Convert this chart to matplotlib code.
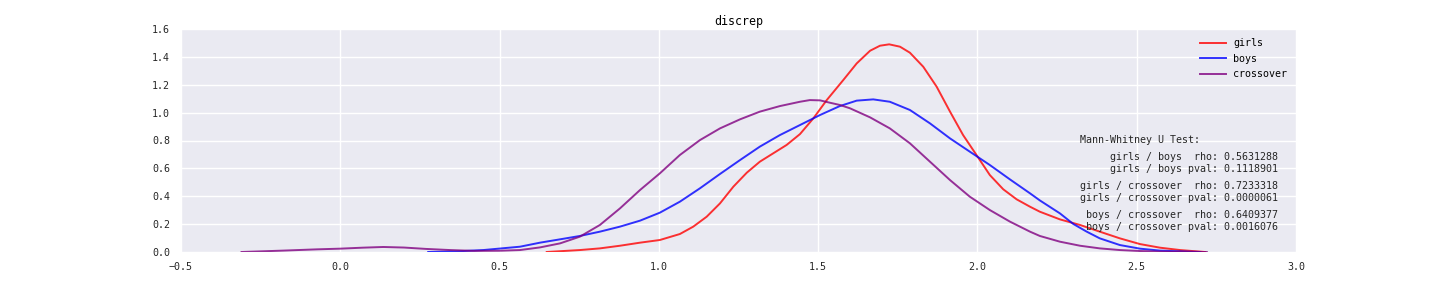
import matplotlib

matplotlib.use("Agg")
import matplotlib.pyplot as plt
import numpy as np

# KDE curves (x, density)
girls_x = [0.648, 0.752, 0.815, 0.878, 0.941, 1.003, 1.066, 1.108, 1.150, 1.192,
           1.234, 1.276, 1.317, 1.359, 1.401, 1.443, 1.485, 1.527, 1.579, 1.621,
           1.663, 1.694, 1.723, 1.757, 1.788, 1.830, 1.872, 1.914, 1.955, 1.997,
           2.039, 2.081, 2.123, 2.165, 2.196, 2.259, 2.322, 2.384, 2.447, 2.510,
           2.573, 2.636, 2.714]
girls_y = [0.0, 0.014, 0.026, 0.045, 0.067, 0.086, 0.129, 0.182, 0.253, 0.349,
           0.469, 0.569, 0.648, 0.708, 0.768, 0.846, 0.959, 1.090, 1.234, 1.353,
           1.444, 1.480, 1.490, 1.473, 1.430, 1.329, 1.186, 1.007, 0.839, 0.696,
           0.552, 0.450, 0.378, 0.325, 0.289, 0.234, 0.194, 0.146, 0.098, 0.057,
           0.031, 0.014, 0.0]

boys_x = [0.276, 0.360, 0.449, 0.564, 0.627, 0.690, 0.752, 0.815, 0.878, 0.941,
          1.003, 1.066, 1.129, 1.192, 1.255, 1.317, 1.380, 1.443, 1.506, 1.568,
          1.621, 1.673, 1.725, 1.788, 1.851, 1.914, 1.976, 2.039, 2.102, 2.165,
          2.196, 2.259, 2.301, 2.343, 2.384, 2.447, 2.510, 2.573, 2.657, 2.700]
boys_y = [0.0, 0.004, 0.014, 0.038, 0.067, 0.091, 0.115, 0.146, 0.182, 0.225,
          0.282, 0.361, 0.457, 0.560, 0.660, 0.756, 0.839, 0.911, 0.983, 1.047,
          1.086, 1.095, 1.078, 1.019, 0.923, 0.815, 0.720, 0.624, 0.521, 0.421,
          0.370, 0.277, 0.201, 0.146, 0.098, 0.050, 0.024, 0.010, 0.003, 0.0]

cross_x = [-0.310, -0.179, -0.074, 0.0, 0.070, 0.135, 0.200, 0.270, 0.344, 0.420,
           0.500, 0.564, 0.627, 0.690, 0.752, 0.815, 0.878, 0.941, 1.003, 1.066,
           1.129, 1.192, 1.255, 1.317, 1.380, 1.443, 1.474, 1.506, 1.537, 1.568,
           1.600, 1.663, 1.725, 1.788, 1.851, 1.914, 1.976, 2.039, 2.102, 2.165,
           2.196, 2.259, 2.322, 2.384, 2.447, 2.510, 2.573, 2.720]
cross_y = [0.0, 0.010, 0.019, 0.024, 0.031, 0.036, 0.032, 0.022, 0.014, 0.008,
           0.009, 0.014, 0.033, 0.062, 0.110, 0.194, 0.313, 0.445, 0.564, 0.696,
           0.803, 0.887, 0.952, 1.007, 1.047, 1.078, 1.090, 1.088, 1.071, 1.055,
           1.031, 0.966, 0.887, 0.780, 0.648, 0.516, 0.397, 0.301, 0.218, 0.146,
           0.115, 0.074, 0.045, 0.026, 0.014, 0.007, 0.003, 0.0]

series = [("girls", girls_x, girls_y, "red"),
          ("boys", boys_x, boys_y, "blue"),
          ("crossover", cross_x, cross_y, "purple")]

test_header = "Mann-Whitney U Test:"
test_lines = [
    ["girls / boys  rho: 0.5631288", "girls / boys pval: 0.1118901"],
    ["girls / crossover  rho: 0.7233318", "girls / crossover pval: 0.0000061"],
    ["boys / crossover  rho: 0.6409377", "boys / crossover pval: 0.0016076"],
]

plt.rcParams["font.family"] = "DejaVu Sans Mono"

fig = plt.figure(figsize=(14.4, 2.88), dpi=100)
ax = fig.add_axes([181 / 1440, 36 / 288, 1115 / 1440, 223 / 288])
ax.set_facecolor("#EAEAF2")
for s in ax.spines.values():
    s.set_visible(False)
ax.grid(True, color="white", lw=1.0)
ax.set_axisbelow(True)

for name, xs, ys, c in series:
    ax.plot(xs, ys, color=c, alpha=0.8, lw=1.4, label=name,
            solid_joinstyle="round")

ax.set_xlim(-0.5, 3.0)
ax.set_ylim(0, 1.6)
ax.set_xticks(np.arange(-0.5, 3.01, 0.5))
ax.set_yticks(np.arange(0, 1.61, 0.2))
ax.tick_params(length=0, labelsize=7.2, colors="#262626")
ax.tick_params(axis="y", pad=8)
ax.tick_params(axis="x", pad=7)
ax.set_title("discrep", fontsize=8.4, pad=3)

ax.legend(loc="upper right", frameon=False, fontsize=7.2, handlelength=2.6,
          handletextpad=0.7, labelspacing=0.55, borderaxespad=0.5,
          bbox_to_anchor=(1.0, 1.0))

ax.text((1080 - 181) / 1115, (252 - 140) / 223, test_header, transform=ax.transAxes,
        fontsize=7.2, ha="left", va="center", color="#262626")
ypix = [[157, 169], [186, 198], [215, 227]]
for pair, ys in zip(test_lines, ypix):
    for line, yp in zip(pair, ys):
        ax.text((1278 - 181) / 1115, (252 - yp) / 223, line, transform=ax.transAxes,
                fontsize=7.2, ha="right", va="center", color="#262626")

fig.savefig("out.png", dpi=100)
